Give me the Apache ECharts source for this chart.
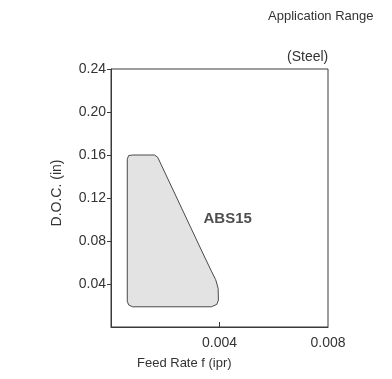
<!DOCTYPE html>
<html><head><meta charset="utf-8">
<script src="https://cdn.jsdelivr.net/npm/echarts@6/dist/echarts.min.js"></script>
<style>html,body{margin:0;padding:0;background:#fff}#c{width:392px;height:379px}</style>
</head><body><div id="c"></div>
<script>
// Region outline (feed rate, ipr) / (depth of cut, in)
const regionFeed = [0.0006, 0.00065, 0.0008, 0.0016, 0.00172, 0.00333, 0.0037, 0.00386, 0.00395, 0.00396, 0.0039, 0.0037, 0.0008, 0.00065, 0.0006];
const regionDoc  = [0.156, 0.1595, 0.160, 0.160, 0.158, 0.0716, 0.052, 0.044, 0.036, 0.025, 0.021, 0.0188, 0.0188, 0.0205, 0.024];
const regionLabel = ['ABS15'];
const labelPos = [[0.0043, 0.1005]];
const xTicks = [0, 0.004, 0.008];
const yTicks = [0, 0.04, 0.08, 0.12, 0.16, 0.20, 0.24];

const chart = echarts.init(document.getElementById('c'), null, {renderer: 'canvas'});
const font = 'Liberation Sans, Arial, sans-serif';
chart.setOption({
  animation: false,
  backgroundColor: '#fff',
  grid: {left: 111, right: 64, top: 69, bottom: 52, show: true, borderColor: '#3a3a3a', borderWidth: 1, backgroundColor: 'transparent'},
  xAxis: {
    type: 'value', min: xTicks[0], max: xTicks[xTicks.length - 1], interval: 0.004,
    axisLine: {show: true, lineStyle: {color: '#3a3a3a'}},
    axisTick: {show: true, inside: true, length: 5, customValues: xTicks.slice(1, -1), lineStyle: {color: '#3a3a3a'}},
    splitLine: {show: false},
    axisLabel: {color: '#333', fontFamily: font, fontSize: 14, margin: 9,
      formatter: v => v === 0 ? '' : v.toFixed(3)}
  },
  yAxis: {
    type: 'value', min: yTicks[0], max: yTicks[yTicks.length - 1], interval: 0.04,
    axisLine: {show: true, lineStyle: {color: '#3a3a3a'}},
    axisTick: {show: true, length: 4, customValues: yTicks.slice(1), lineStyle: {color: '#3a3a3a'}},
    splitLine: {show: false},
    axisLabel: {color: '#333', fontFamily: font, fontSize: 14, margin: 5,
      formatter: v => v === 0 ? '' : v.toFixed(2)}
  },
  graphic: [
    {type: 'text', x: 268, y: 16, style: {text: 'Application Range', fill: '#333', font: '13px ' + font, verticalAlign: 'middle'}},
    {type: 'text', x: 287, y: 57, style: {text: '(Steel)', fill: '#333', font: '14px ' + font, verticalAlign: 'middle'}},
    {type: 'text', x: 137, y: 363, style: {text: 'Feed Rate f (ipr)', fill: '#333', font: '13px ' + font, verticalAlign: 'middle'}},
    {type: 'text', x: 57, y: 193, rotation: Math.PI / 2, style: {text: 'D.O.C. (in)', fill: '#333', font: '14px ' + font, align: 'center', verticalAlign: 'middle'}}
  ],
  series: [
    {
      type: 'custom',
      data: [[regionFeed[0], regionDoc[0]]],
      renderItem: function (params, api) {
        const pts = regionFeed.map((x, i) => api.coord([x, regionDoc[i]]));
        return {type: 'polygon', shape: {points: pts, smooth: 0},
          style: {fill: '#e3e3e3', stroke: '#4a4a4a', lineWidth: 1}};
      },
      silent: true, z: 2
    },
    {
      type: 'scatter', symbolSize: 0, data: labelPos, z: 3,
      label: {show: true, position: 'inside', formatter: p => regionLabel[p.dataIndex],
        color: '#222', fontFamily: font, fontSize: 15, fontWeight: 'bold'}
    }
  ]
});
</script></body></html>
